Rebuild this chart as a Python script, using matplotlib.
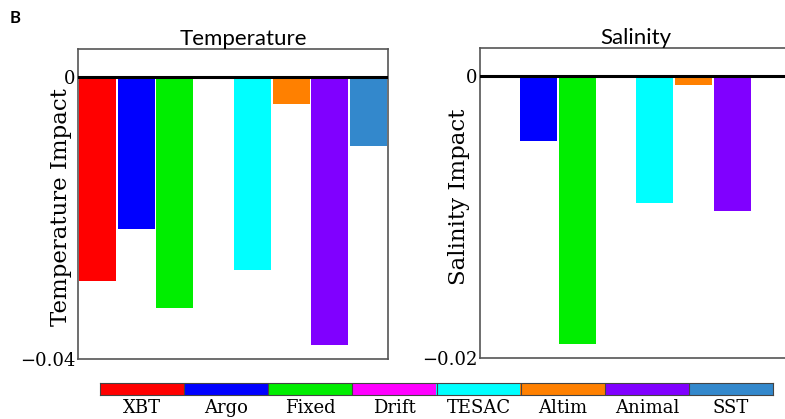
import numpy as np
import matplotlib.pyplot as plt
from matplotlib.colors import ListedColormap

sensors = ['XBT', 'Argo', 'Fixed', 'Drift', 'TESAC', 'Altim', 'Animal', 'SST']
colors = ['#ff0000', '#0000ff', '#00ee00', '#ff00ff', '#00ffff', '#ff8000', '#8000ff', '#3388cc']
temp_impact = [-0.0289, -0.0216, -0.0328, 0.0, -0.0274, -0.0038, -0.0380, -0.0097]
salt_impact = [0.0, -0.0046, -0.0190, 0.0, -0.0090, -0.0006, -0.0096, 0.0]

serif = 'DejaVu Serif'
sans = 'Lato'

fig = plt.figure(figsize=(7.85, 4.19), dpi=100)
W, H = 785.0, 419.0


def px_axes(x0, y0, x1, y1):
    # pixel box (top-left origin) -> figure fraction
    return fig.add_axes([x0 / W, 1 - y1 / H, (x1 - x0) / W, (y1 - y0) / H])


def panel(ax, vals, ymin, title, ylabel, ticklab, labx, laby, titx):
    x = np.arange(len(sensors))
    ax.bar(x, vals, width=0.95, color=colors)
    ax.axhline(0, color='black', lw=2.2, zorder=3)
    ax.set_xlim(-0.5, len(sensors) - 0.5)
    ax.set_ylim(ymin, -ymin * 0.1)
    ax.set_xticks([])
    ax.set_yticks([ymin, 0])
    ax.set_yticklabels(ticklab, family=serif, fontsize=13)
    ax.tick_params(axis='y', length=0, pad=2)
    for s in ax.spines.values():
        s.set_color('#555555')
        s.set_linewidth(1.2)
    ax.set_title(title, family=sans, fontsize=16, pad=3, x=titx)
    ax.set_ylabel(ylabel, family=serif, fontsize=16.5)
    ax.yaxis.set_label_coords(labx, laby)


ax1 = px_axes(78, 49, 388, 359)
panel(ax1, temp_impact, -0.04, 'Temperature', 'Temperature Impact',
      ['\u22120.04', '0'], -0.02, 0.49, 0.535)

ax2 = px_axes(480, 48, 791, 358)
panel(ax2, salt_impact, -0.02, 'Salinity', 'Salinity Impact',
      ['\u22120.02', '0'], -0.032, 0.52, 0.5)

# colour key under the panels
cax = px_axes(100, 383, 773, 395)
cax.imshow(np.arange(len(sensors))[None, :], cmap=ListedColormap(colors),
           aspect='auto', extent=(-0.5, len(sensors) - 0.5, 0, 1))
cax.set_yticks([])
cax.set_xticks(np.arange(len(sensors)))
cax.set_xticklabels(sensors, family=serif, fontsize=13)
cax.tick_params(axis='x', length=0, pad=3)
for s in cax.spines.values():
    s.set_color('#444444')
for i in range(1, len(sensors)):
    cax.axvline(i - 0.5, color='#444444', lw=0.8)

fig.text(10 / W, 1 - 18 / H, 'B', family=sans, fontsize=12, fontweight='bold',
         va='center', ha='left')

fig.savefig('out.png', dpi=100)
